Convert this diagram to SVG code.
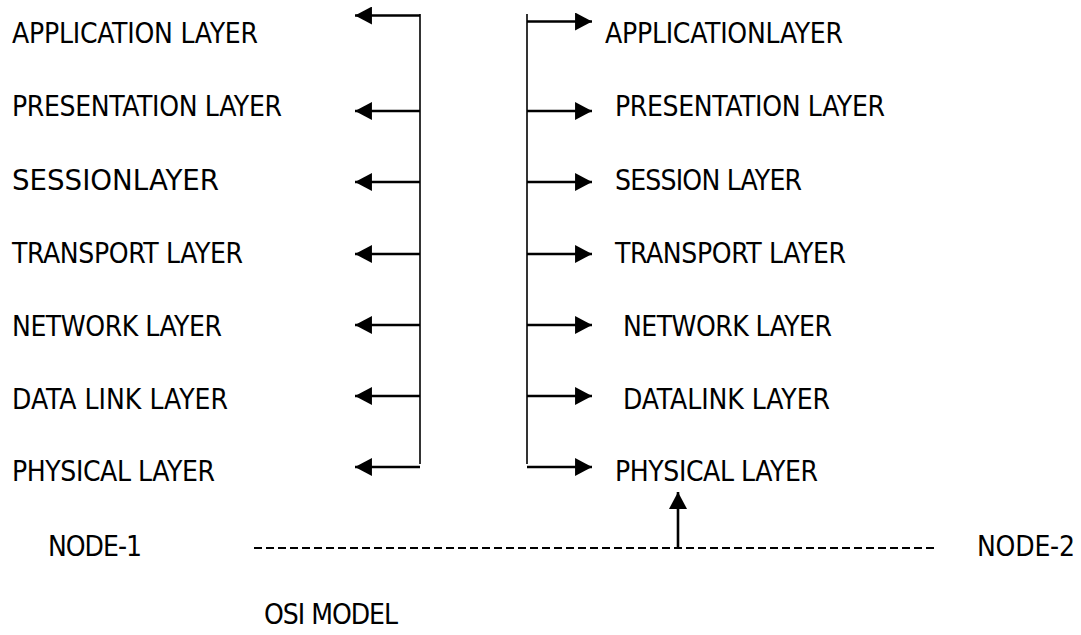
<svg xmlns="http://www.w3.org/2000/svg" width="1081" height="635" viewBox="0 0 1081 635">
<defs>
<marker id="ah" markerUnits="userSpaceOnUse" markerWidth="18" markerHeight="18" viewBox="0 0 16 17" refX="16" refY="8.5" orient="auto">
<path d="M0,0 L16,8.5 L0,17 Z" fill="#000"/>
</marker>
<style>
text{font-family:"DejaVu Sans Condensed","DejaVu Sans",sans-serif;font-size:28px;fill:#000}
.v{stroke:#000;stroke-width:1.6;fill:none}
.a{stroke:#000;stroke-width:2.6;fill:none;marker-end:url(#ah)}
.d{stroke:#000;stroke-width:2.2;fill:none;stroke-dasharray:8 4}
</style>
</defs>
<rect width="1081" height="635" fill="#fff"/>
<g id="node1-layers">
<text x="12" y="43" textLength="246" lengthAdjust="spacing">APPLICATION LAYER</text>
<text x="12" y="116" textLength="270" lengthAdjust="spacing">PRESENTATION LAYER</text>
<text x="12" y="190" textLength="207" lengthAdjust="spacingAndGlyphs">SESSIONLAYER</text>
<text x="12" y="263" textLength="231" lengthAdjust="spacing">TRANSPORT LAYER</text>
<text x="12" y="336" textLength="210" lengthAdjust="spacing">NETWORK LAYER</text>
<text x="12" y="409" textLength="216" lengthAdjust="spacing">DATA LINK LAYER</text>
<text x="12" y="481" textLength="203" lengthAdjust="spacing">PHYSICAL LAYER</text>
</g>
<g id="node2-layers">
<text x="605" y="43" textLength="238" lengthAdjust="spacing">APPLICATIONLAYER</text>
<text x="615" y="116" textLength="270" lengthAdjust="spacing">PRESENTATION LAYER</text>
<text x="615" y="190" textLength="187" lengthAdjust="spacing">SESSION LAYER</text>
<text x="615" y="263" textLength="231" lengthAdjust="spacing">TRANSPORT LAYER</text>
<text x="623" y="336" textLength="209" lengthAdjust="spacing">NETWORK LAYER</text>
<text x="623" y="409" textLength="207" lengthAdjust="spacing">DATALINK LAYER</text>
<text x="615" y="481" textLength="203" lengthAdjust="spacing">PHYSICAL LAYER</text>
</g>
<g id="node1"><text x="48" y="556" textLength="94" lengthAdjust="spacing">NODE-1</text></g>
<g id="node2"><text x="977" y="556" textLength="98" lengthAdjust="spacing">NODE-2</text></g>
<g id="title"><text x="264" y="624" textLength="134" lengthAdjust="spacing">OSI MODEL</text></g>
<g id="connectors">
<line class="v" x1="420" y1="14" x2="420" y2="464"/>
<line class="v" x1="527" y1="14" x2="527" y2="464"/>
<line class="a" x1="420" y1="15.5" x2="355" y2="15.5"/>
<line class="a" x1="420" y1="111" x2="355" y2="111"/>
<line class="a" x1="420" y1="182" x2="355" y2="182"/>
<line class="a" x1="420" y1="254" x2="355" y2="254"/>
<line class="a" x1="420" y1="325" x2="355" y2="325"/>
<line class="a" x1="420" y1="396" x2="355" y2="396"/>
<line class="a" x1="420" y1="467" x2="355" y2="467"/>
<line class="a" x1="527" y1="21.5" x2="592" y2="21.5"/>
<line class="a" x1="527" y1="111" x2="592" y2="111"/>
<line class="a" x1="527" y1="182" x2="592" y2="182"/>
<line class="a" x1="527" y1="254" x2="592" y2="254"/>
<line class="a" x1="527" y1="325" x2="592" y2="325"/>
<line class="a" x1="527" y1="396" x2="592" y2="396"/>
<line class="a" x1="527" y1="467" x2="592" y2="467"/>
<line class="d" x1="254" y1="548" x2="937" y2="548"/>
<line class="a" x1="678" y1="548" x2="678" y2="492"/>
</g>
</svg>
